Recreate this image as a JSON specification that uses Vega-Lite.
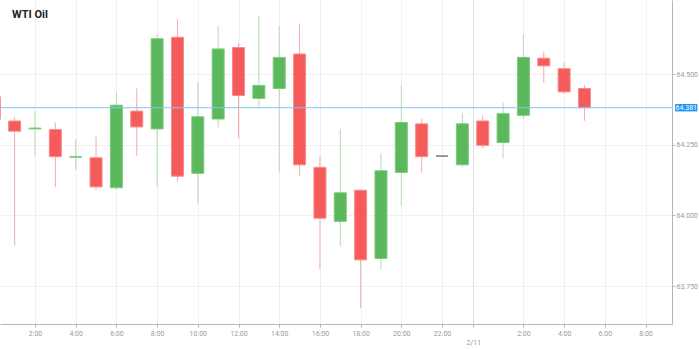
{
  "$schema": "https://vega.github.io/schema/vega-lite/v6.json",
  "width": 672,
  "height": 324,
  "autosize": {"type": "none"},
  "padding": {"left": 0, "top": 0, "right": 27, "bottom": 25},
  "background": "white",
  "title": {"text": "WTI Oil", "anchor": "start", "frame": "group", "offset": -20, "dx": 12, "font": "Roboto", "fontSize": 11, "fontWeight": "bold", "color": "#222222"},
  "config": {
    "view": {"stroke": null},
    "axis": {"labelFont": "Roboto", "labelFontSize": 7, "labelColor": "#9a9a9a", "domainColor": "#b5b5b5", "tickColor": "#b5b5b5", "tickSize": 3, "gridColor": "#f0f0f0", "gridWidth": 1}
  },
  "datasets": {
    "candles": [
      {"h": 0, "open": 64.420, "high": 64.430, "low": 64.330, "close": 64.340},
      {"h": 1, "open": 64.334, "high": 64.349, "low": 63.893, "close": 64.298},
      {"h": 2, "open": 64.306, "high": 64.369, "low": 64.210, "close": 64.309},
      {"h": 3, "open": 64.304, "high": 64.329, "low": 64.100, "close": 64.208},
      {"h": 4, "open": 64.206, "high": 64.270, "low": 64.160, "close": 64.208},
      {"h": 5, "open": 64.204, "high": 64.278, "low": 64.090, "close": 64.101},
      {"h": 6, "open": 64.098, "high": 64.437, "low": 64.090, "close": 64.390},
      {"h": 7, "open": 64.369, "high": 64.449, "low": 64.210, "close": 64.313},
      {"h": 8, "open": 64.306, "high": 64.641, "low": 64.101, "close": 64.625},
      {"h": 9, "open": 64.630, "high": 64.694, "low": 64.119, "close": 64.139},
      {"h": 10, "open": 64.149, "high": 64.471, "low": 64.043, "close": 64.349},
      {"h": 11, "open": 64.341, "high": 64.671, "low": 64.312, "close": 64.589},
      {"h": 12, "open": 64.594, "high": 64.610, "low": 64.273, "close": 64.424},
      {"h": 13, "open": 64.414, "high": 64.705, "low": 64.384, "close": 64.460},
      {"h": 14, "open": 64.449, "high": 64.671, "low": 64.151, "close": 64.559},
      {"h": 15, "open": 64.571, "high": 64.679, "low": 64.140, "close": 64.179},
      {"h": 16, "open": 64.170, "high": 64.210, "low": 63.810, "close": 63.990},
      {"h": 17, "open": 63.979, "high": 64.306, "low": 63.892, "close": 64.080},
      {"h": 18, "open": 64.089, "high": 64.090, "low": 63.672, "close": 63.843},
      {"h": 19, "open": 63.848, "high": 64.220, "low": 63.810, "close": 64.158},
      {"h": 20, "open": 64.152, "high": 64.460, "low": 64.034, "close": 64.329},
      {"h": 21, "open": 64.324, "high": 64.341, "low": 64.151, "close": 64.208},
      {"h": 22, "open": 64.210, "high": 64.210, "low": 64.210, "close": 64.210},
      {"h": 23, "open": 64.179, "high": 64.360, "low": 64.170, "close": 64.324},
      {"h": 24, "open": 64.334, "high": 64.355, "low": 64.239, "close": 64.248},
      {"h": 25, "open": 64.258, "high": 64.400, "low": 64.202, "close": 64.360},
      {"h": 26, "open": 64.354, "high": 64.640, "low": 64.341, "close": 64.559},
      {"h": 27, "open": 64.556, "high": 64.579, "low": 64.469, "close": 64.529},
      {"h": 28, "open": 64.519, "high": 64.540, "low": 64.429, "close": 64.437},
      {"h": 29, "open": 64.449, "high": 64.461, "low": 64.335, "close": 64.381}
    ],
    "last": [{"price": 64.381, "label": "64.381"}]
  },
  "layer": [
    {
      "data": {"name": "candles"},
      "mark": {"type": "rule", "strokeWidth": 1},
      "encoding": {
        "x": {"field": "h", "type": "quantitative", "title": null,
          "scale": {"domain": [0.28, 33.3], "nice": false, "zero": false, "padding": 0},
          "axis": {"values": [2, 4, 6, 8, 10, 12, 14, 16, 18, 20, 22, 23.54, 26, 28, 30, 32],
            "labelExpr": "datum.value > 23 && datum.value < 24 ? ['', '2/11'] : (datum.value % 24) + ':00'",
            "labelLineHeight": 9, "labelPadding": 2, "labelFlush": false,
            "gridColor": {"condition": {"test": "datum.value > 23 && datum.value < 24", "value": "#dddddd"}, "value": "#f0f0f0"}}},
        "y": {"field": "low", "type": "quantitative", "title": null,
          "scale": {"domain": [63.616, 64.762], "nice": false, "zero": false},
          "axis": {"orient": "right", "values": [63.75, 64.0, 64.25, 64.5], "format": ".3f", "labelPadding": 1}},
        "y2": {"field": "high"},
        "color": {"condition": [
          {"test": "datum.open == datum.close", "value": "#777777"},
          {"test": "datum.close > datum.open", "value": "#b3dcad"}
        ], "value": "#f9aaaa"}
      }
    },
    {
      "data": {"name": "candles"},
      "mark": {"type": "bar", "size": 12, "strokeWidth": 1},
      "encoding": {
        "x": {"field": "h", "type": "quantitative"},
        "y": {"field": "open", "type": "quantitative"},
        "y2": {"field": "close"},
        "fill": {"condition": [
          {"test": "datum.open == datum.close", "value": "#777777"},
          {"test": "datum.close > datum.open", "value": "#5cb85c"}
        ], "value": "#f65b5b"},
        "stroke": {"condition": [
          {"test": "datum.open == datum.close", "value": "#777777"},
          {"test": "datum.close > datum.open", "value": "#7fc97f"}
        ], "value": "#f88a8a"}
      }
    },
    {
      "data": {"name": "last"},
      "mark": {"type": "rule", "color": "#86c5f5", "strokeWidth": 1},
      "encoding": {"y": {"field": "price", "type": "quantitative"}}
    },
    {
      "data": {"name": "last"},
      "mark": {"type": "point", "shape": "M-1,-0.33H1V0.33H-1Z", "size": 500, "filled": true, "color": "#2196f3", "opacity": 1},
      "encoding": {"x": {"datum": 34.0}, "y": {"field": "price", "type": "quantitative"}}
    },
    {
      "data": {"name": "last"},
      "mark": {"type": "text", "font": "Roboto", "fontSize": 7, "color": "white", "align": "center", "baseline": "middle"},
      "encoding": {"x": {"datum": 34.0}, "y": {"field": "price", "type": "quantitative"}, "text": {"field": "label"}}
    }
  ]
}
